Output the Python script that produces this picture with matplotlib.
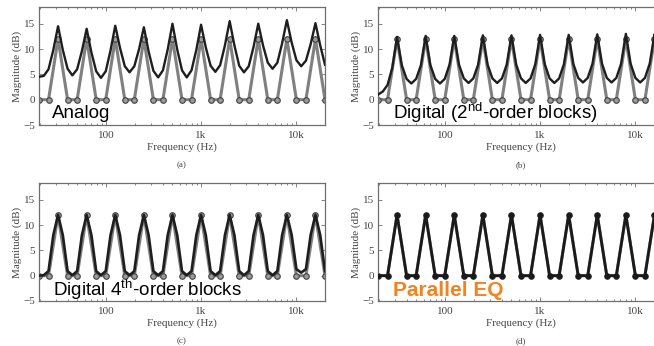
import matplotlib
matplotlib.use("Agg")
import matplotlib.pyplot as plt
from matplotlib.ticker import FixedLocator, FixedFormatter, LogLocator, NullFormatter

# --- data -----------------------------------------------------------------
# sixth-octave frequency grid (Hz) for the measured responses
freq_sixth = [19.69, 22.10, 24.80, 27.84,
              31.25, 35.08, 39.37, 44.19, 49.61, 55.68,
              62.5, 70.15, 78.75, 88.39, 99.21, 111.4,
              125, 140.3, 157.5, 176.8, 198.4, 222.7,
              250, 280.6, 315.0, 353.6, 396.9, 445.4,
              500, 561.2, 630.0, 707.1, 793.7, 890.9,
              1000, 1122, 1260, 1414, 1587, 1782,
              2000, 2245, 2520, 2828, 3175, 3564,
              4000, 4490, 5040, 5657, 6350, 7127,
              8000, 8980, 10079, 11314, 12699, 14254,
              16000, 17959, 20159]

# third-octave points of the target (command) gains
freq_third = [19.69, 24.80, 31.25, 39.37, 49.61, 62.5, 78.75, 99.21, 125,
              157.5, 198.4, 250, 315.0, 396.9, 500, 630.0, 793.7, 1000,
              1260, 1587, 2000, 2520, 3175, 4000, 5040, 6350, 8000, 10079,
              12699, 16000, 20159]
target_db = [0, 0, 12, 0, 0, 12, 0, 0, 12, 0, 0, 12, 0, 0, 12, 0, 0, 12,
             0, 0, 12, 0, 0, 12, 0, 0, 12, 0, 0, 12, 0]

analog_db = [4.5, 4.7, 6.0, 9.8,
             14.5, 9.8, 6.1, 4.8, 6.0, 9.6,
             14.0, 9.3, 5.6, 4.3, 5.6, 9.7,
             14.6, 10.2, 6.6, 5.4, 6.6, 10.0,
             14.3, 9.5, 5.7, 4.4, 5.8, 9.9,
             15.0, 9.9, 5.8, 4.4, 5.8, 9.8,
             14.8, 10.3, 6.7, 5.5, 6.8, 10.7,
             15.5, 10.7, 6.7, 5.4, 6.6, 10.4,
             15.0, 10.7, 7.3, 6.1, 7.3, 11.1,
             15.7, 11.3, 7.8, 6.6, 7.7, 11.0,
             15.1, 10.7, 6.9]

digital2_db = [1.0, 1.6, 2.9, 6.3,
               12.4, 6.8, 4.1, 3.2, 4.1, 6.8,
               12.6, 6.8, 4.1, 3.2, 4.1, 6.9,
               12.6, 6.9, 4.2, 3.3, 4.2, 6.9,
               12.7, 6.9, 4.2, 3.3, 4.2, 6.9,
               12.7, 6.9, 4.2, 3.3, 4.2, 7.0,
               12.8, 7.0, 4.2, 3.3, 4.2, 7.0,
               12.8, 7.0, 4.3, 3.4, 4.3, 7.1,
               12.9, 7.1, 4.3, 3.4, 4.3, 7.1,
               13.0, 7.1, 4.3, 3.4, 4.3, 7.1,
               12.9, 7.1, 4.3]

digital4_db = [0.0, 0.1, 0.9, 8.0,
               12.0, 8.0, 0.9, 0.1, 0.9, 8.0,
               12.0, 8.0, 0.9, 0.1, 0.9, 8.0,
               12.0, 8.0, 0.9, 0.1, 0.9, 8.0,
               12.0, 8.0, 0.9, 0.1, 0.9, 8.0,
               12.0, 8.0, 0.9, 0.1, 0.9, 8.0,
               12.0, 8.0, 0.9, 0.1, 0.9, 8.0,
               12.0, 8.0, 0.9, 0.1, 0.9, 8.0,
               12.0, 8.0, 0.9, 0.1, 0.9, 8.0,
               12.0, 8.1, 1.3, 0.6, 1.3, 8.1,
               12.0, 8.0, 0.9]

parallel_db = [0, 0, 12, 0, 0, 12, 0, 0, 12, 0, 0, 12, 0, 0, 12, 0, 0, 12,
               0, 0, 12, 0, 0, 12, 0, 0, 12, 0, 0, 12, 0]

xtick_vals = [100, 1000, 10000]
xtick_labels = ["100", "1k", "10k"]
ytick_vals = [-5, 0, 5, 10, 15]
panel_tags = ["(a)", "(b)", "(c)", "(d)"]
panel_names = ["Analog", "Digital (2$^{\\rm nd}$-order blocks)",
               "Digital 4$^{\\rm th}$-order blocks", "Parallel EQ"]

# --- figure ---------------------------------------------------------------
plt.rcParams["font.family"] = ["Liberation Serif", "DejaVu Serif"]
plt.rcParams["axes.unicode_minus"] = True
plt.rcParams["mathtext.fontset"] = "custom"
plt.rcParams["mathtext.rm"] = "Liberation Sans"
plt.rcParams["mathtext.it"] = "Liberation Sans:italic"
plt.rcParams["mathtext.bf"] = "Liberation Sans:bold"

W, H = 654, 346
fig = plt.figure(figsize=(W / 100, H / 100), dpi=100)

TXT = "#454545"
GRID = "#6f6f6f"


def px_axes(left, top, width, height):
    return fig.add_axes([left / W, 1 - (top + height) / H, width / W, height / H])


boxes = [(39, 7), (378, 7), (39, 183), (378, 183)]
axes = [px_axes(l, t, 286, 118) for l, t in boxes]

for ax in axes:
    ax.set_xscale("log")
    ax.set_xlim(19.69, 20159)
    ax.set_ylim(-5, 18.3)
    ax.xaxis.set_major_locator(FixedLocator(xtick_vals))
    ax.xaxis.set_major_formatter(FixedFormatter(xtick_labels))
    ax.xaxis.set_minor_locator(LogLocator(base=10, subs=range(2, 10)))
    ax.xaxis.set_minor_formatter(NullFormatter())
    ax.set_yticks(ytick_vals)
    ax.tick_params(which="both", direction="in", top=True, right=True,
                   color=GRID, labelcolor=TXT, labelsize=8, width=0.6)
    ax.tick_params(which="major", length=3, pad=3)
    ax.tick_params(axis="x", which="major", pad=4)
    ax.tick_params(which="minor", length=1.6)
    for s in ax.spines.values():
        s.set_color(GRID)
        s.set_linewidth(0.9)
    # target gains (grey with circles)
    ax.plot(freq_third, target_db, color="#808080", lw=2.2, marker="o",
            ms=4.0, mfc="#9a9a9a", mec="#404040", mew=0.8, zorder=2)

axes[0].plot(freq_sixth, analog_db, color="#1e1e1e", lw=1.7, zorder=3)
axes[1].plot(freq_sixth, digital2_db, color="#1e1e1e", lw=1.7, zorder=3)
axes[2].plot(freq_sixth, digital4_db, color="#1e1e1e", lw=1.9, zorder=3)
axes[3].plot(freq_third, parallel_db, color="#1a1a1a", lw=2.0, marker="o",
             ms=3.0, mfc="#1a1a1a", mec="#1a1a1a", zorder=3)

# axis labels and panel tags
for ax, (l, t), tag in zip(axes, boxes, panel_tags):
    cx = (l + 143) / W
    fig.text(cx, 1 - (t + 140) / H, "Frequency (Hz)", ha="center",
             va="center", fontsize=8, color=TXT)
    fig.text(cx, 1 - (t + 158) / H, tag, ha="center", va="center",
             fontsize=6.5, color=TXT)
    fig.text((l - 22) / W, 1 - (t + 59) / H, "Magnitude (dB)", rotation=90,
             ha="center", va="center", fontsize=8, color=TXT)

# overlay captions
fig.text(52 / W, 1 - 118.5 / H, panel_names[0], family="Liberation Sans",
         fontsize=13.5, color="black", va="baseline")
fig.text(393 / W, 1 - 119.3 / H, panel_names[1], family="Liberation Sans",
         fontsize=13.5, color="black", va="baseline")
fig.text(53 / W, 1 - 296 / H, panel_names[2], family="Liberation Sans",
         fontsize=13.5, color="black", va="baseline")
fig.text(393 / W, 1 - 296 / H, panel_names[3], family="Liberation Sans",
         fontsize=15, fontweight="bold", color="#f5821f", va="baseline")

fig.savefig("out.png", dpi=100)
